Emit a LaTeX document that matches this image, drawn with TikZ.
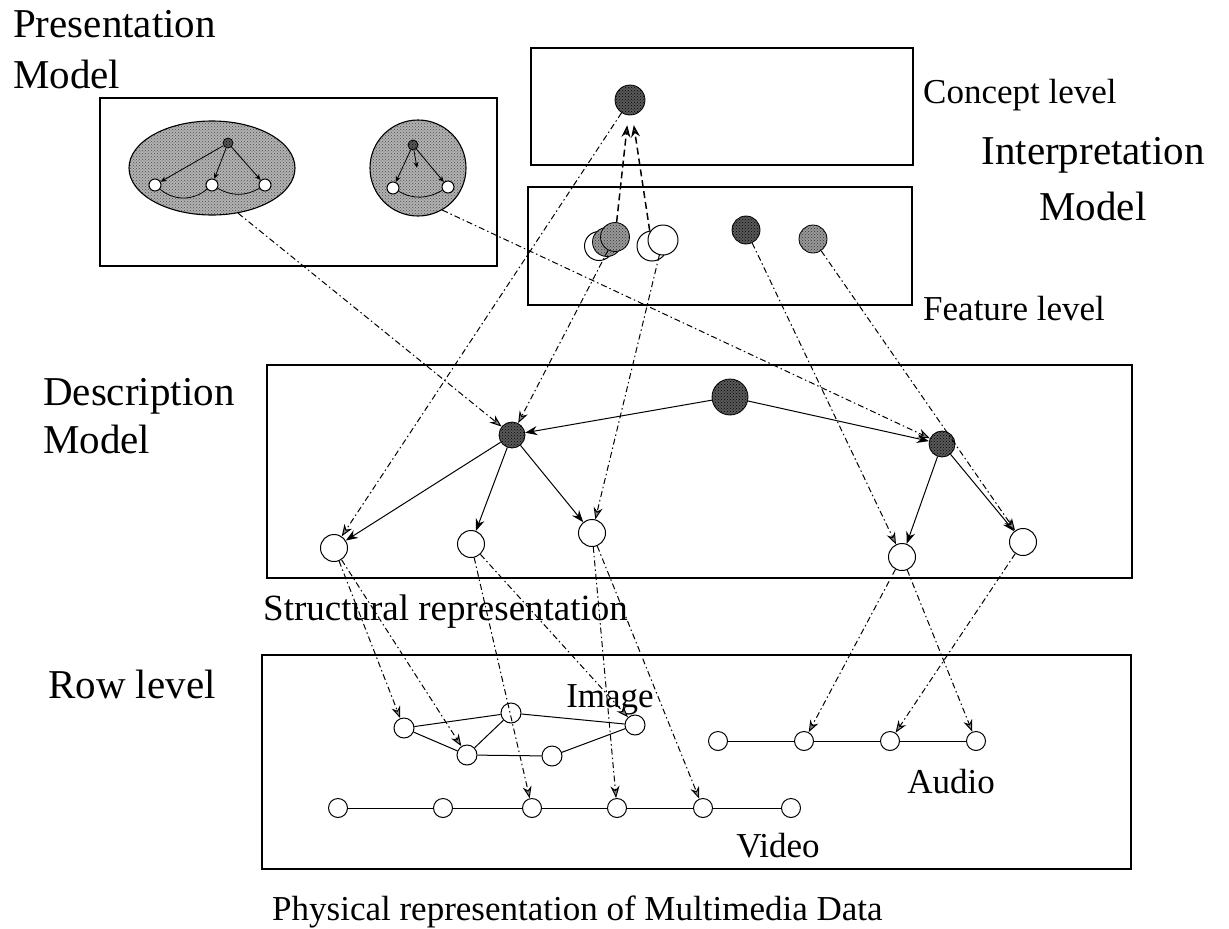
\documentclass[tikz,border=0pt]{standalone}
\usepackage{fontspec}
\setmainfont{Liberation Serif}
\usetikzlibrary{arrows.meta,shapes.geometric,patterns}

\tikzset{
  frame/.style={draw, line width=1.1pt},
  wnode/.style={circle, draw, fill=white, line width=1pt, inner sep=0pt},
  dnode/.style={circle, draw, line width=0.8pt, inner sep=0pt,
    preaction={fill=black!65}, pattern=crosshatch dots, pattern color=black},
  tnode/.style={circle, draw, line width=0.8pt, inner sep=0pt,
    preaction={fill=black!40}, pattern=crosshatch dots, pattern color=black!80},
  cloud/.style={draw, line width=1.1pt, inner sep=0pt,
    preaction={fill=black!30}, pattern=crosshatch dots, pattern color=black!70},
  link/.style={line width=1pt, -{Stealth[length=12pt,width=9pt]}},
  smalllink/.style={line width=0.8pt, -{Stealth[length=6pt,width=5pt]}},
  dlink/.style={line width=1pt, dash pattern=on 6pt off 3pt on 1.5pt off 3pt,
    -{Stealth[length=12pt,width=9pt,fill=black!45]}},
  flink/.style={line width=1.5pt, dash pattern=on 7pt off 4pt, shorten >=10pt,
    -{Stealth[length=12pt,width=9pt,fill=black!45]}},
  lbl/.style={font=\fontsize{35}{40}\selectfont, inner sep=0pt},
  biglbl/.style={font=\fontsize{41}{47}\selectfont, inner sep=0pt},
}

\begin{document}
\begin{tikzpicture}[x=1pt,y=-1pt]
\useasboundingbox (0,0) rectangle (1229,929);
\fill[white] (0,0) rectangle (1229,929);

% ---------- frames ----------
\draw[frame] (100,98) rectangle (497,266);   % presentation
\draw[frame] (531,48) rectangle (913,165);   % concept level
\draw[frame] (528,187) rectangle (912,305);  % feature level
\draw[frame] (267,365) rectangle (1132,578); % description
\draw[frame] (262,655) rectangle (1131,869); % row level

% ---------- labels ----------
\node[biglbl, anchor=base west] (tPres) at (13,37) {Presentation};
\node[biglbl, anchor=base west] (tPresM) at (13,88) {Model};
\node[lbl, anchor=base west] (tConc) at (923,103) {Concept level};
\node[biglbl, anchor=base] (tInt) at (1093,164) {Interpretation};
\node[biglbl, anchor=base] (tIntM) at (1093,220) {Model};
\node[lbl, anchor=base west] (tFeat) at (923,320) {Feature level};
\node[biglbl, anchor=base west] (tDesc) at (43,405) {Description};
\node[biglbl, anchor=base west] (tDescM) at (43,453) {Model};
\node[biglbl, anchor=base west] (tRow) at (48,698) {Row level};
\node[lbl, anchor=base west, font=\fontsize{37}{42}\selectfont] (tStruct) at (263,620) {Structural representation};
\node[lbl, anchor=base west] (tPhys) at (272,920) {Physical representation of Multimedia Data};
\node[lbl, anchor=base] (tImg) at (610,707) {Image};
\node[lbl, anchor=base] (tAud) at (951,793) {Audio};
\node[lbl, anchor=base] (tVid) at (778,857) {Video};

% ---------- presentation model ----------
\node[cloud, ellipse, minimum width=166pt, minimum height=94pt] (pe) at (212,168) {};
\node[cloud, circle, minimum size=96pt] (pc) at (418,168) {};

\node[dnode, minimum size=10pt] (pt) at (228,143) {};
\node[wnode, minimum size=12pt] (pl) at (155,185) {};
\node[wnode, minimum size=12pt] (pm) at (212,185) {};
\node[wnode, minimum size=12pt] (pr) at (265,185) {};
\draw[smalllink] (pt) -- (pl);
\draw[smalllink] (pt) -- (pm);
\draw[smalllink] (pt) -- (pr);
\draw[line width=0.8pt] (pl) to[out=-40,in=-140] (pm);
\draw[line width=0.8pt] (pm) to[out=-30,in=-150] (pr);

\node[dnode, minimum size=10pt] (qt) at (413,145) {};
\node[wnode, minimum size=12pt] (ql) at (393,188) {};
\node[wnode, minimum size=12pt] (qr) at (448,187) {};
\coordinate (qm) at (417,168);
\draw[smalllink] (qt) -- (ql);
\draw[smalllink] (qt) -- (qr);
\draw[smalllink] (qt) -- (qm);
\draw[line width=0.8pt] (ql) to[out=-30,in=-150] (qr);

% ---------- interpretation model ----------
\node[dnode, minimum size=30pt] (c) at (630,100) {};

\node[wnode, minimum size=29pt] (f1a) at (599,246) {};
\node[tnode, minimum size=29pt] (f1b) at (607,242) {};
\node[tnode, minimum size=29pt] (f1) at (615,237) {};
\node[wnode, minimum size=30pt] (f2b) at (652,246) {};
\node[wnode, minimum size=30pt] (f2) at (663,240) {};
\node[dnode, minimum size=28pt] (f3) at (746,230) {};
\node[tnode, minimum size=28pt] (f4) at (813,239) {};

% ---------- description model ----------
\node[dnode, minimum size=36pt] (r) at (730,397) {};
\node[dnode, minimum size=26pt] (d1) at (512,435) {};
\node[dnode, minimum size=26pt] (d2) at (942,444) {};
\node[wnode, minimum size=27pt] (l1) at (334,548) {};
\node[wnode, minimum size=27pt] (l2) at (471,544) {};
\node[wnode, minimum size=27pt] (l3) at (592,533) {};
\node[wnode, minimum size=27pt] (l4) at (902,557) {};
\node[wnode, minimum size=27pt] (l5) at (1023,542) {};

\draw[link] (r) -- (d1);
\draw[link] (r) -- (d2);
\draw[link] (d1) -- (l1);
\draw[link] (d1) -- (l2);
\draw[link] (d1) -- (l3);
\draw[link] (d2) -- (l4);
\draw[link] (d2) -- (l5);

% ---------- row level ----------
\node[wnode, minimum size=20pt] (i1) at (404,728) {};
\node[wnode, minimum size=20pt] (i2) at (511,713) {};
\node[wnode, minimum size=20pt] (i3) at (635,725) {};
\node[wnode, minimum size=20pt] (i4) at (467,755) {};
\node[wnode, minimum size=20pt] (i5) at (552,756) {};
\draw[line width=1pt] (i1) -- (i2) -- (i3);
\draw[line width=1pt] (i1) -- (i4) -- (i5) -- (i3);
\draw[line width=1pt] (i4) -- (i2);

\node[wnode, minimum size=19pt] (v1) at (338,808) {};
\node[wnode, minimum size=19pt] (v2) at (443,808) {};
\node[wnode, minimum size=19pt] (v3) at (532,808) {};
\node[wnode, minimum size=19pt] (v4) at (617,808) {};
\node[wnode, minimum size=19pt] (v5) at (703,808) {};
\node[wnode, minimum size=19pt] (v6) at (791,808) {};
\draw[line width=1pt] (v1) -- (v2) -- (v3) -- (v4) -- (v5) -- (v6);

\node[wnode, minimum size=19pt] (a1) at (718,741) {};
\node[wnode, minimum size=19pt] (a2) at (804,741) {};
\node[wnode, minimum size=19pt] (a3) at (890,741) {};
\node[wnode, minimum size=19pt] (a4) at (976,741) {};
\draw[line width=1pt] (a1) -- (a2) -- (a3) -- (a4);

% ---------- cross-level references ----------
\draw[flink] (f1) -- (c);
\draw[flink] (f2b) -- (c);
\draw[dlink] (c) -- (l1);
\draw[dlink] (f1) -- (d1);
\draw[dlink] (f2) -- (l3);
\draw[dlink] (f3) -- (l4);
\draw[dlink] (f4) -- (l5);
\draw[dlink] (pe.-60) -- (d1);
\draw[dlink] (pc.-60) -- (d2);

\draw[dlink] (l1) -- (i1);
\draw[dlink] (l1) -- (i4);
\draw[dlink] (l2) -- (v3);
\draw[dlink] (l2) -- (i3);
\draw[dlink] (l3) -- (v4);
\draw[dlink] (l3) -- (v5);
\draw[dlink] (l4) -- (a2);
\draw[dlink] (l4) -- (a4);
\draw[dlink] (l5) -- (a3);
\end{tikzpicture}
\end{document}
